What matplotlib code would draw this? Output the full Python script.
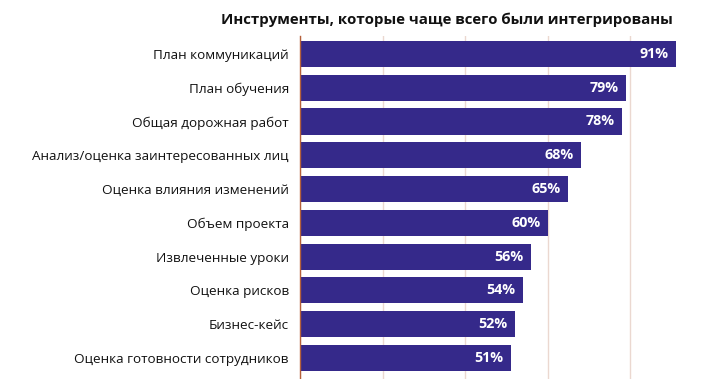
import matplotlib
matplotlib.use("Agg")
import matplotlib.pyplot as plt

# data
labels = ["План коммуникаций", "План обучения", "Общая дорожная работ",
          "Анализ/оценка заинтересованных лиц", "Оценка влияния изменений",
          "Объем проекта", "Извлеченные уроки", "Оценка рисков",
          "Бизнес-кейс", "Оценка готовности сотрудников"]
values = [91, 79, 78, 68, 65, 60, 56, 54, 52, 51]

bar_color = "#35298A"
plt.rcParams['font.family'] = ['Open Sans', 'DejaVu Sans']

fig = plt.figure(figsize=(7.12, 3.79), dpi=100)
ax = fig.add_axes([300/712, 0, 413/712, (379-36)/379])

y = list(range(len(labels)))
ax.barh(y, values, height=0.77, color=bar_color, zorder=2)
ax.set_xlim(0, 100)
ax.set_ylim(9.62, -0.53)
ax.set_xticks([0, 20, 40, 60, 80, 100])
ax.xaxis.grid(True, color="#EBD8D0", linewidth=1, zorder=0)
ax.tick_params(axis="x", length=0, labelbottom=False)
ax.tick_params(axis="y", length=0, pad=8)
ax.set_yticks(y)
ax.set_yticklabels(labels, fontsize=9.7, color="#111111")

for s in ["top", "right", "bottom"]:
    ax.spines[s].set_visible(False)
ax.spines["left"].set_color("#B5603A")
ax.spines["left"].set_linewidth(1)
ax.spines["left"].set_zorder(3)

for i, v in enumerate(values):
    ax.text(v - 1.8, i, "{}%".format(v), ha="right", va="center",
            color="white", fontsize=10.3, fontweight="bold", zorder=3)

fig.text(447/712, 1 - 20/379, "Инструменты, которые чаще всего были интегрированы",
         ha="center", va="center", fontsize=10.8, fontweight="bold", color="#111111")

fig.savefig("out.png", dpi=100)
